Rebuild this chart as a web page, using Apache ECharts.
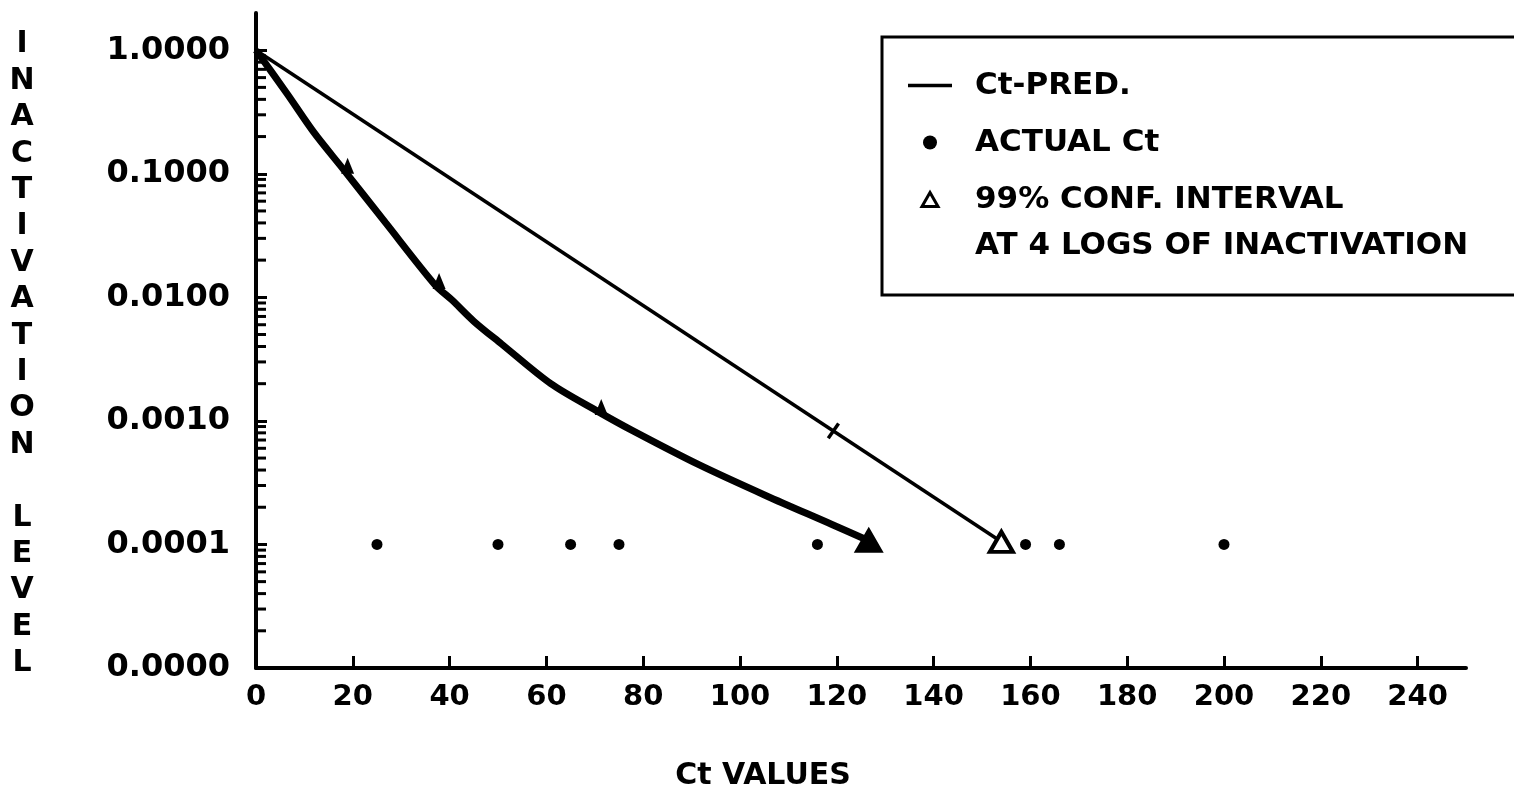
<!DOCTYPE html>
<html>
<head>
<meta charset="utf-8">
<script src="https://cdn.jsdelivr.net/npm/echarts@6/dist/echarts.min.js"></script>
<style>
html,body{margin:0;padding:0;background:#fff;}
#chart{width:1514px;height:797px;}
</style>
</head>
<body>
<div id="chart"></div>
<script>
// ---- data ----
const ctTickValues = [0, 20, 40, 60, 80, 100, 120, 140, 160, 180, 200, 220, 240];
const levelTickValues = [0.00001, 0.0001, 0.001, 0.01, 0.1, 1];
const minorMultipliers = [2, 3, 4, 5, 6, 7, 8, 9];
const minorDecades = [0.00001, 0.0001, 0.001, 0.01, 0.1];

// straight Ct-PRED. line
const predX = [0, 154];
const predY = [1.0, 0.000105];
// curved Ct-PRED. line
const curveX = [0, 6.5, 12, 18.1, 26.8, 37, 40.5, 45, 50.7, 60.9, 70.5, 77.9, 91.6, 105.4, 119, 126.6];
const curveY = [1.0, 0.44, 0.215, 0.108, 0.040, 0.0126, 0.0095, 0.0064, 0.0042, 0.0020, 0.0012, 0.00083, 0.00044, 0.000248, 0.000145, 0.000107];
// ACTUAL Ct
const actualX = [25, 50, 65, 75, 116, 159, 166, 200];
const actualY = [0.0001, 0.0001, 0.0001, 0.0001, 0.0001, 0.0001, 0.0001, 0.0001];
// 99% CONF. INTERVAL at 4 logs
const confX = [126.6, 154];
const confY = [0.000107, 0.000105];
// small flags on the curves (intervals at 1, 2, 3 logs)
const flagX = [18.1, 37, 70.5];
const flagY = [0.108, 0.0126, 0.0012];
const crossX = [119.3];
const crossY = [0.00083];

const zip = (xs, ys) => xs.map((x, i) => [x, ys[i]]);
const minorTicks = [];
minorDecades.forEach(d => minorMultipliers.forEach(m => minorTicks.push([0, d * m])));

const FONT = 'DejaVu Sans';
const chart = echarts.init(document.getElementById('chart'), null, {renderer: 'canvas'});

const option = {
  backgroundColor: '#ffffff',
  animation: false,
  textStyle: {fontFamily: FONT, color: '#000'},
  grid: {left: 256, right: 48, top: 13, bottom: 129, containLabel: false, outerBoundsMode: 'none'},
  legend: {
    orient: 'vertical',
    left: 882,
    top: 37,
    padding: [33, 190, 80, 26],
    itemGap: 26,
    itemWidth: 44,
    itemHeight: 14,
    borderColor: '#000',
    borderWidth: 3,
    borderRadius: 0,
    textStyle: {fontFamily: FONT, fontWeight: 'bold', fontSize: 31, color: '#000', padding: [0, 0, 0, 18]},
    data: [
      {name: 'Ct-PRED.', icon: 'path://M0 0H100V8H0Z', itemStyle: {color: '#000', opacity: 1}},
      {name: 'ACTUAL Ct', icon: 'path://M5 0A5 5 0 1 1 5 10A5 5 0 1 1 5 0Z', itemStyle: {color: '#000', opacity: 1}},
      {name: '99% CONF. INTERVAL', icon: 'path://M8 0L16 14H0Z', itemStyle: {color: '#fff', borderColor: '#000', borderWidth: 3, opacity: 1}}
    ]
  },
  xAxis: {
    type: 'value',
    min: 0,
    max: 250,
    interval: 20,
    splitLine: {show: false},
    axisLine: {show: true, onZero: false, lineStyle: {color: '#000', width: 4}},
    axisTick: {show: true, inside: true, length: 12, lineStyle: {color: '#000', width: 3}, customValues: ctTickValues},
    axisLabel: {
      color: '#000', fontFamily: FONT, fontWeight: 'bold', fontSize: 29, margin: 15,
      customValues: ctTickValues
    }
  },
  yAxis: {
    type: 'log',
    logBase: 10,
    min: 0.00001,
    max: 2,
    splitNumber: 5,
    splitLine: {show: false},
    axisLine: {show: true, onZero: false, lineStyle: {color: '#000', width: 4}},
    axisTick: {show: true, inside: true, length: 11, lineStyle: {color: '#000', width: 3}},
    axisLabel: {
      color: '#000', fontFamily: FONT, fontWeight: 'bold', fontSize: 32, margin: 26,
      showMaxLabel: false,
      formatter: v => (levelTickValues.some(t => Math.abs(Math.log10(t) - Math.log10(v)) < 1e-6) ? Number(v).toFixed(4) : '')
    }
  },
  graphic: [
    {
      type: 'text', x: 22, y: 354, silent: true,
      style: {
        text: 'I\nN\nA\nC\nT\nI\nV\nA\nT\nI\nO\nN\n\nL\nE\nV\nE\nL',
        align: 'center', verticalAlign: 'middle',
        font: 'bold 30px "DejaVu Sans"', lineHeight: 36.4, fill: '#000'
      }
    },
    {
      type: 'text', x: 763, y: 776, silent: true,
      style: {text: 'Ct VALUES', align: 'center', verticalAlign: 'middle', font: 'bold 30px "DejaVu Sans"', fill: '#000'}
    },
    {
      type: 'text', x: 975, y: 246, silent: true,
      style: {text: 'AT 4 LOGS OF INACTIVATION', align: 'left', verticalAlign: 'middle', font: 'bold 31px "DejaVu Sans"', fill: '#000'}
    }
  ],
  series: [
    {
      name: 'Ct-PRED.', type: 'line', data: zip(predX, predY), symbol: 'none',
      lineStyle: {color: '#000', width: 3.5}, itemStyle: {color: '#000'}, z: 3
    },
    {
      name: 'Ct-PRED.', type: 'line', data: zip(curveX, curveY), symbol: 'none', smooth: 0.3,
      lineStyle: {color: '#000', width: 7}, itemStyle: {color: '#000'}, z: 3
    },
    {
      name: 'ACTUAL Ct', type: 'scatter', data: zip(actualX, actualY), symbol: 'circle', symbolSize: 11,
      itemStyle: {color: '#000', opacity: 1}, z: 5
    },
    {
      name: '99% CONF. INTERVAL', type: 'scatter', symbol: 'triangle', symbolSize: [23, 20],
      data: zip(confX, confY).map((p, i) => i === 0 ? {value: p, itemStyle: {color: '#000'}} : {value: p}),
      itemStyle: {color: '#fff', borderColor: '#000', borderWidth: 4, opacity: 1}, z: 6
    },
    {
      name: 'flags', type: 'scatter', data: zip(flagX, flagY), symbol: 'triangle', symbolSize: [13, 16],
      symbolOffset: [4, -4], itemStyle: {color: '#000', opacity: 1}, z: 4, silent: true
    },
    {
      name: 'cross', type: 'scatter', data: zip(crossX, crossY), symbol: 'rect', symbolSize: [3.5, 18],
      symbolRotate: -35, itemStyle: {color: '#000', opacity: 1}, z: 4, silent: true
    },
    {
      name: 'minorTicks', type: 'custom', data: minorTicks, silent: true, clip: false, z: 2,
      renderItem: (params, api) => {
        const p = api.coord([api.value(0), api.value(1)]);
        return {type: 'line', shape: {x1: p[0], y1: p[1], x2: p[0] + 10, y2: p[1]}, style: {stroke: '#000', lineWidth: 3}};
      }
    }
  ]
};
chart.setOption(option);
</script>
</body>
</html>
